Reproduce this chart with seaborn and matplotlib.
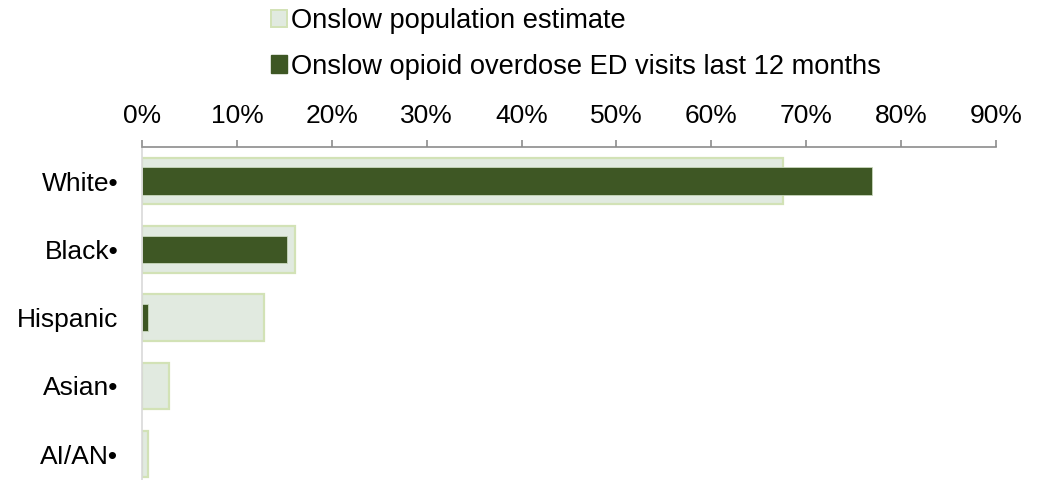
import matplotlib
matplotlib.use("Agg")
import matplotlib.pyplot as plt
import seaborn as sns
import pandas as pd
from matplotlib.patches import Patch
from matplotlib.ticker import FuncFormatter

categories = ["White•", "Black•", "Hispanic", "Asian•", "AI/AN•"]
population = [67.6, 16.1, 12.9, 2.8, 0.6]
ed_visits = [76.9, 15.3, 0.6, 0.0, 0.0]
series_names = ["Onslow population estimate",
                "Onslow opioid overdose ED visits last 12 months"]
xticks = [0, 10, 20, 30, 40, 50, 60, 70, 80, 90]

sns.set_theme(style="white")
plt.rcParams['font.family'] = ['Liberation Sans', 'DejaVu Sans']
plt.rcParams['text.color'] = 'black'

pop_fill = "#E1EAE0"
pop_edge = "#D2E2B6"
ed_fill = "#3E5724"

df = pd.DataFrame({"cat": categories, "pop": population, "ed": ed_visits})

fig = plt.figure(figsize=(10.46, 4.8), dpi=100)
ax = fig.add_axes([142/1046, 0.0, (996-142)/1046, (480-147)/480])

sns.barplot(data=df, x="pop", y="cat", order=categories, width=0.68,
            color=pop_fill, edgecolor=pop_edge, linewidth=1.6, saturation=1,
            ax=ax, errorbar=None)
sns.barplot(data=df, x="ed", y="cat", order=categories, width=0.40,
            color=ed_fill, edgecolor="#C8D7BC", linewidth=0.6, saturation=1,
            ax=ax, errorbar=None)

ax.set_xlim(0, 90)
ax.set_ylim(4.38, -0.5)
ax.set_xticks(xticks)
ax.xaxis.set_major_formatter(FuncFormatter(lambda v, p: f"{int(v)}%"))
ax.xaxis.tick_top()
ax.tick_params(axis="x", which="major", direction="out", length=5, width=1.2,
               color="#8C8C8C", pad=9, labelsize=19, top=True, bottom=False,
               labeltop=True, labelbottom=False)
ax.tick_params(axis="y", length=0, pad=17, labelsize=19)
for lbl in ax.get_xticklabels() + ax.get_yticklabels():
    lbl.set_color("black")
ax.set_xlabel("")
ax.set_ylabel("")
ax.spines["bottom"].set_visible(False)
ax.spines["right"].set_visible(False)
ax.spines["top"].set_color("#8C8C8C")
ax.spines["top"].set_linewidth(1.2)
ax.spines["left"].set_color("#D9D9D9")
ax.spines["left"].set_linewidth(1.2)

handles = [Patch(facecolor=pop_fill, edgecolor=pop_edge, linewidth=1.4),
           Patch(facecolor=ed_fill, edgecolor=ed_fill)]
leg = fig.legend(handles, series_names, loc="upper left",
                 bbox_to_anchor=(271/1046, 1 - 8/480), frameon=False, fontsize=19.6,
                 handlelength=0.6, handleheight=0.6, handletextpad=0.15,
                 labelspacing=0.72, borderaxespad=0.0, borderpad=0.0)
for t in leg.get_texts():
    t.set_color("black")

fig.savefig("out.png", dpi=100)
